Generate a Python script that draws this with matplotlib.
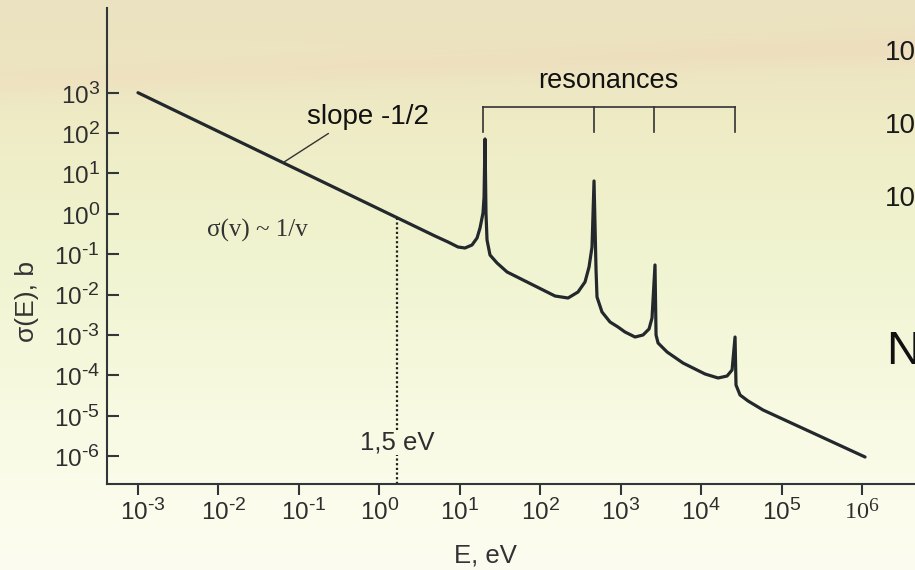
import numpy as np
import matplotlib
matplotlib.use("Agg")
import matplotlib.pyplot as plt
from matplotlib.ticker import NullLocator
from matplotlib.transforms import ScaledTranslation
from matplotlib import _mathtext

# larger superscripts, closer to the reference's labels
_mathtext.SHRINK_FACTOR = 0.8

# ---------------- data (log10 units) ----------------
log_E = [-3.0,
         0.692, 0.854, 0.978, 1.065, 1.152, 1.215, 1.252, 1.289, 1.302, 1.314, 1.326, 1.339, 1.376, 1.463, 1.588,
         2.184, 2.346, 2.470, 2.557, 2.607, 2.644, 2.669, 2.694, 2.706, 2.768, 2.868, 2.967,
         3.054, 3.179, 3.278, 3.353, 3.390, 3.427, 3.440, 3.465, 3.577, 3.775,
         4.049, 4.211, 4.323, 4.385, 4.422, 4.434, 4.484, 4.584, 4.770, 6.038]
log_sigma = [3.0,
             -0.550, -0.698, -0.822, -0.847, -0.773, -0.599, -0.351, 0.020, 0.416, 1.853, 0.020, -0.649, -1.020, -1.218, -1.441,
             -2.036, -2.086, -1.937, -1.689, -1.318, -0.822, 0.813, -1.392, -2.061, -2.432, -2.680, -2.804,
             -2.928, -3.052, -3.002, -2.853, -2.581, -1.268, -3.002, -3.200, -3.423, -3.696,
             -3.968, -4.067, -4.018, -3.869, -3.052, -4.241, -4.488, -4.637, -4.860, -6.024]

resonance_log_E = [1.295, 2.669, 3.415, 4.422]   # bracket tick positions
marker_E = 1.66                                   # dotted "1,5 eV" line position

xtick_vals = [1e-3, 1e-2, 1e-1, 1e0, 1e1, 1e2, 1e3, 1e4, 1e5, 1e6]
xtick_labels = [r"$10^{\text{-}3}$", r"$10^{\text{-}2}$", r"$10^{\text{-}1}$", r"$10^{0}$", r"$10^{1}$",
                r"$10^{2}$", r"$10^{3}$", r"$10^{4}$", r"$10^{5}$", r"$\mathsf{10^{6}}$"]
ytick_vals = [1e-6, 1e-5, 1e-4, 1e-3, 1e-2, 1e-1, 1e0, 1e1, 1e2, 1e3]
ytick_labels = [r"$10^{\text{-}6}$", r"$10^{\text{-}5}$", r"$10^{\text{-}4}$", r"$10^{\text{-}3}$",
                r"$10^{\text{-}2}$", r"$10^{\text{-}1}$", r"$10^{0}$", r"$10^{1}$", r"$10^{2}$", r"$10^{3}$"]

E = 10.0 ** np.array(log_E)
sigma = 10.0 ** np.array(log_sigma)

# ---------------- style ----------------
plt.rcParams["font.family"] = ["Liberation Sans", "DejaVu Sans"]
plt.rcParams["mathtext.fontset"] = "custom"
plt.rcParams["mathtext.rm"] = "Liberation Sans"
plt.rcParams["mathtext.it"] = "Liberation Sans:italic"
plt.rcParams["mathtext.bf"] = "Liberation Sans:bold"
plt.rcParams["mathtext.sf"] = "Liberation Serif"

W, H = 915, 570
fig = plt.figure(figsize=(W / 100, H / 100), dpi=100)

# background: soft beige -> pale yellow-green gradient
bg = fig.add_axes([0, 0, 1, 1])
bg.axis("off")
stops_y = [0, 40, 70, 120, 180, 260, 340, 420, 500, 570]
stops_c = [(234, 226, 192), (236, 227, 193), (237, 230, 194), (238, 235, 197), (239, 240, 202),
           (241, 244, 209), (244, 247, 217), (248, 250, 227), (251, 252, 235), (252, 252, 240)]
yy = np.arange(H)
col = np.stack([np.interp(yy, stops_y, [c[i] for c in stops_c]) for i in range(3)], axis=1)
img = np.repeat(col[:, None, :], W, axis=1)
xx = np.arange(W)[None, :]
yc = 82 - 34 * (xx / W)
band = np.exp(-((yy[:, None] - yc) / 16.0) ** 2)
img[..., 0] += 1 * band
img[..., 1] -= 5 * band
img[..., 2] -= 3 * band
bg.imshow(np.clip(img, 0, 255).astype(np.uint8), extent=[0, 1, 0, 1], aspect="auto",
          transform=bg.transAxes, zorder=0)

# main axes
left_px, right_px, top_px, bot_px = 107, 915, 8, 484
ax = fig.add_axes([left_px / W, (H - bot_px) / H, (right_px - left_px) / W, (bot_px - top_px) / H])
ax.patch.set_alpha(0)
ax.set_xscale("log")
ax.set_yscale("log")
ax.set_xlim(10 ** -3.385, 10 ** 6.659)
ax.set_ylim(10 ** -6.693, 10 ** 5.098)

spine_col = "#30363a"
for s in ["top", "right"]:
    ax.spines[s].set_visible(False)
for s in ["left", "bottom"]:
    ax.spines[s].set_color(spine_col)
    ax.spines[s].set_linewidth(1.5)

ax.set_xticks(xtick_vals)
ax.set_xticklabels(xtick_labels)
ax.set_yticks(ytick_vals)
ax.set_yticklabels(ytick_labels)
ax.xaxis.set_minor_locator(NullLocator())
ax.yaxis.set_minor_locator(NullLocator())
ax.tick_params(axis="y", direction="in", length=8.5, width=1.5, pad=5, labelsize=17.5,
               color=spine_col, labelcolor="#2e2e2e")
ax.tick_params(axis="x", direction="out", length=8, width=1.5, pad=2, labelsize=17.5,
               color=spine_col, labelcolor="#2e2e2e")

# curve
ax.plot(E, sigma, color="#23282c", lw=2.3, solid_joinstyle="round", solid_capstyle="round", zorder=3)

# dotted 1,5 eV marker
sig_at = 10 ** np.interp(np.log10(marker_E), log_E, log_sigma)
ax.plot([marker_E, marker_E], [10 ** -6.69, 10 ** -5.98], color="#222222", lw=1.6,
        linestyle=(0, (1.0, 1.1)), zorder=2)
ax.plot([marker_E, marker_E], [10 ** -5.36, sig_at], color="#222222", lw=1.6,
        linestyle=(0, (1.0, 1.1)), zorder=2)
ax.text(marker_E, 10 ** -5.67, "1,5 eV", ha="center", va="center", fontsize=18.5, color="#2e2e2e")

# resonance bracket
res_E = 10.0 ** np.array(resonance_log_E)
ax.plot([res_E[0], res_E[-1]], [10 ** 2.646, 10 ** 2.646], color="#333333", lw=1.2, zorder=2)
for r in res_E:
    ax.plot([r, r], [10 ** 2.646, 10 ** 2.027], color="#333333", lw=1.2, zorder=2)
ax.text(10 ** 2.843, 10 ** 3.29, "resonances", ha="center", va="center", fontsize=19.5, color="#111111")

# slope annotation
ann_x = 10 ** -1.197
ann_y = 10 ** np.interp(-1.197, log_E, log_sigma)
ax.annotate("slope -1/2", xy=(ann_x, ann_y), xytext=(10 ** -0.14, 10 ** 2.40),
            ha="center", va="center", fontsize=20, color="#111111",
            arrowprops=dict(arrowstyle="-", color="#333333", lw=1.0,
                            shrinkA=1, shrinkB=0, relpos=(0.22, 0.0)))

ax.text(10 ** -1.52, 10 ** -0.41, r"σ(v) ~ 1/v", ha="center", va="center", fontsize=18,
        family=["Liberation Serif", "DejaVu Serif"], color="#333333")

# axis labels
fig.text(485 / W, 1 - 556 / H, "E, eV", ha="center", va="center", fontsize=18.5, color="#333333")
fig.text(27 / W, 1 - 302 / H, "σ(E), b", ha="center", va="center", fontsize=19, rotation=90,
         color="#333333")

# partial text from neighbouring slide content (cut by the right edge)
for yp in [53, 126, 199]:
    fig.text(885 / W, 1 - yp / H, "10", ha="left", va="center", fontsize=20, color="#1a1a1a")
fig.text(886 / W, 1 - 352 / H, "N", ha="left", va="center", fontsize=34, color="#111111")

# shift negative-exponent x labels so that "10" sits on its tick
fig.canvas.draw()
off = ScaledTranslation(5 / 100, 0, fig.dpi_scale_trans)
for tick, v in zip(ax.xaxis.get_major_ticks(), xtick_vals):
    if v < 1:
        tick.label1.set_transform(tick.label1.get_transform() + off)

fig.savefig("out.png", dpi=100)
